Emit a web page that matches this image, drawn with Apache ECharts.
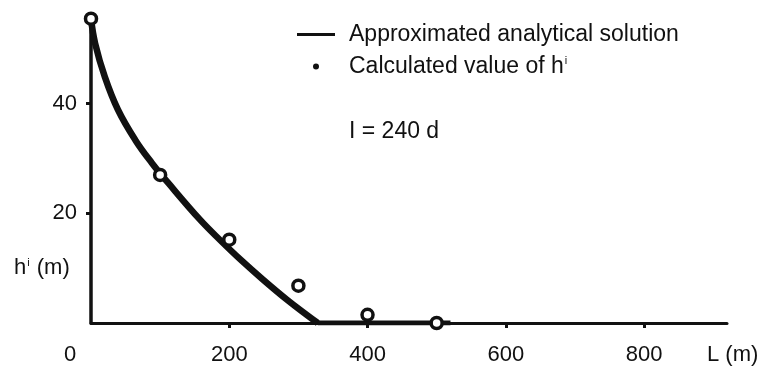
<!DOCTYPE html>
<html>
<head>
<meta charset="utf-8">
<script src="https://cdn.jsdelivr.net/npm/echarts@6/dist/echarts.min.js"></script>
<style>
  html, body { margin: 0; padding: 0; background: #fff; }
  #chart { width: 772px; height: 370px; }
</style>
</head>
<body>
<div id="chart"></div>
<script>
    // analytical curve (L in m, h in m)
    var curveL = [0, 6, 20, 39, 64, 88, 112, 158, 187, 216, 249, 284, 313, 328];
    var curveH = [55.5, 51, 44.9, 38.9, 33.4, 29.2, 25.5, 18.8, 15.1, 11.6, 7.9, 4.2, 1.4, 0];
    // beyond the front h stays at 0
    var flatL = [328, 520];
    var flatH = [0, 0];
    // calculated points
    var calcL = [0, 100, 200, 300, 400, 500];
    var calcH = [55.5, 27, 15.2, 6.8, 1.5, 0];
    var xTicks = [0, 200, 400, 600, 800];
    var yTicks = [20, 40];

    var font = 'Liberation Sans, Arial, sans-serif';
    var ink = '#111';
    var fs = 22;

    function pairs(xs, ys) {
        return xs.map(function (v, i) { return [v, ys[i]]; });
    }

    var chart = echarts.init(document.getElementById('chart'));
    var option = {
        animation: false,
        textStyle: { fontFamily: font },
        grid: { left: 91, right: 45, top: 16, bottom: 47 },
        xAxis: {
            type: 'value', min: 0, max: 920, interval: 200,
            name: 'L (m)', nameLocation: 'end', nameGap: -20,
            nameTextStyle: { fontSize: fs, color: ink, align: 'left', verticalAlign: 'top', padding: [21, 0, 0, 0] },
            axisLine: { lineStyle: { color: ink, width: 3 } },
            axisTick: { customValues: [200, 400, 600, 800], length: 5, lineStyle: { color: ink, width: 3 } },
            axisLabel: {
                customValues: xTicks, margin: 21, fontSize: fs, color: ink,
                formatter: function (v) { return v === 0 ? '{z|0}' : String(v); },
                rich: { z: { fontSize: fs, color: ink, padding: [0, 42, 0, 0] } }
            },
            splitLine: { show: false }
        },
        yAxis: {
            type: 'value', min: 0, max: 56,
            axisLine: { show: true, lineStyle: { color: ink, width: 3.5 } },
            axisTick: { show: true, customValues: yTicks, length: 5, lineStyle: { color: ink, width: 3 } },
            axisLabel: { customValues: yTicks, margin: 14, fontSize: fs, color: ink },
            splitLine: { show: false }
        },
        legend: [
            {
                data: [{ name: 'Approximated analytical solution', icon: 'rect' }],
                left: 297, top: 23, padding: 0, itemWidth: 38, itemHeight: 3,
                textStyle: { fontSize: 23, color: ink, padding: [0, 0, 0, 9] },
                itemStyle: { color: ink }
            },
            {
                data: [{ name: 'Calculated value of hi', icon: 'circle' }],
                left: 313, top: 55, padding: 0, itemWidth: 38, itemHeight: 6,
                itemStyle: { color: ink, borderWidth: 0, opacity: 1 },
                formatter: function () { return 'Calculated value of h{sup|i}'; },
                textStyle: {
                    fontSize: 23, color: ink, padding: [0, 0, 0, 9],
                    rich: { sup: { fontSize: 11, color: ink, verticalAlign: 'top', padding: [0, 0, 11, 1] } }
                }
            }
        ],
        graphic: [
            {
                type: 'text', left: 14, top: 257,
                style: {
                    text: 'h{sup|i} (m)', fill: ink, font: fs + 'px ' + font,
                    rich: { sup: { fontSize: 11, fill: ink, verticalAlign: 'top', padding: [0, 1, 11, 1] } }
                }
            },
            {
                type: 'text', left: 349, top: 120,
                style: { text: 'I = 240 d', fill: ink, font: '23px ' + font }
            }
        ],
        series: [
            {
                name: 'Approximated analytical solution',
                type: 'line',
                data: pairs(curveL, curveH),
                smooth: 0.4,
                showSymbol: false,
                lineStyle: { color: ink, width: 6.5 },
                itemStyle: { color: ink },
                z: 3
            },
            {
                name: 'Approximated analytical solution',
                type: 'line',
                data: pairs(flatL, flatH),
                showSymbol: false,
                lineStyle: { color: ink, width: 5 },
                itemStyle: { color: ink },
                z: 3
            },
            {
                name: 'Calculated value of hi',
                type: 'scatter',
                data: pairs(calcL, calcH),
                symbol: 'circle',
                symbolSize: 11,
                clip: false,
                itemStyle: { color: '#fff', borderColor: ink, borderWidth: 3.5, opacity: 1 },
                z: 4
            }
        ]
    };
    chart.setOption(option);
</script>
</body>
</html>
